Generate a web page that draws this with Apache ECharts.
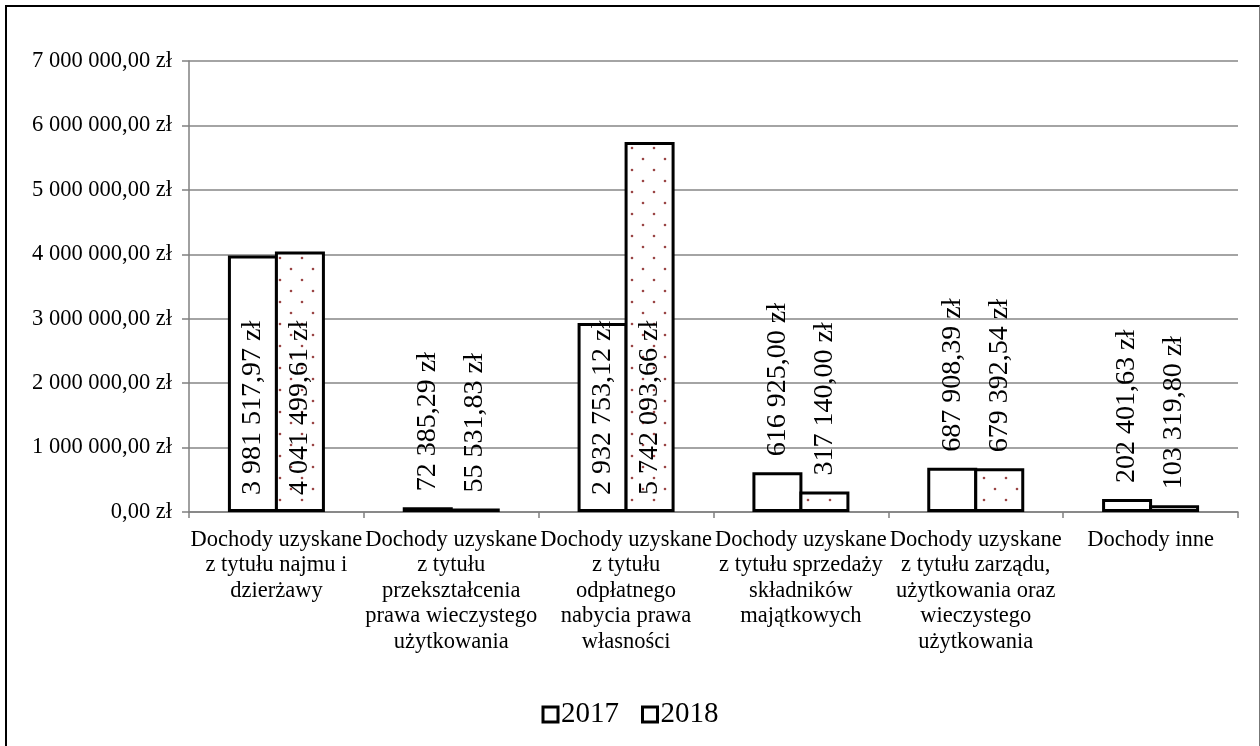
<!DOCTYPE html>
<html>
<head>
<meta charset="utf-8">
<script src="https://cdn.jsdelivr.net/npm/echarts@6/dist/echarts.min.js"></script>
<style>
  html, body { margin: 0; padding: 0; background: #fff; }
  #chart { position: absolute; left: 0; top: 0; width: 1260px; height: 746px; }
  #frame {
    position: absolute; left: 5px; top: 5px; width: 1252px; height: 760px;
    border-left: 2px solid #000; border-top: 2px solid #000; border-right: 1px solid #777;
    pointer-events: none;
  }
</style>
</head>
<body>
<div id="chart"></div>
<div id="frame"></div>
<script>
const categories = [
  "Dochody uzyskane\nz tytułu najmu i\ndzierżawy",
  "Dochody uzyskane\nz tytułu\nprzekształcenia\nprawa wieczystego\nużytkowania",
  "Dochody uzyskane\nz tytułu\nodpłatnego\nnabycia prawa\nwłasności",
  "Dochody uzyskane\nz tytułu sprzedaży\nskładników\nmajątkowych",
  "Dochody uzyskane\nz tytułu zarządu,\nużytkowania oraz\nwieczystego\nużytkowania",
  "Dochody inne",
];
const seriesNames = ["2017", "2018"];
const values2017 = [3981517.97, 72385.29, 2932753.12, 616925.0, 687908.39, 202401.63];
const values2018 = [4041499.61, 55531.83, 5742093.66, 317140.0, 679392.54, 103319.8];
const yMax = 7000000;
const yStep = 1000000;

const font = "'Liberation Serif', 'DejaVu Serif', serif";

const formatZl = (v) => {
  const [intPart, decPart] = Number(v).toFixed(2).split(".");
  return intPart.replace(/\B(?=(\d{3})+(?!\d))/g, " ") + "," + decPart + " zł";
};

// labels of tall bars sit inside, at the base
const labelFor = (v) => {
  const inside = v > 2000000;
  return {
    show: true,
    position: inside ? "insideBottom" : "top",
    distance: inside ? 17 : 16,
    rotate: 90,
    align: "left",
    verticalAlign: "middle",
    color: "#000",
    fontFamily: font,
    fontSize: 28,
    formatter: (p) => formatZl(p.value),
  };
};

const makeDots = () => {
  const c = document.createElement("canvas");
  c.width = 22;
  c.height = 22;
  const ctx = c.getContext("2d");
  ctx.fillStyle = "#fff";
  ctx.fillRect(0, 0, 22, 22);
  ctx.fillStyle = "#9a4545";
  [[5, 5], [16, 16]].forEach(([x, y]) => {
    ctx.beginPath();
    ctx.arc(x, y, 1.3, 0, Math.PI * 2);
    ctx.fill();
  });
  return c;
};

const chart = echarts.init(document.getElementById("chart"));
chart.setOption({
  animation: false,
  backgroundColor: "#fff",
  textStyle: { fontFamily: font },
  grid: { left: 189, right: 22, top: 61, bottom: 234 },
  legend: {
    bottom: 12,
    left: "center",
    itemWidth: 15,
    itemHeight: 15,
    itemGap: 22,
    icon: "rect",
    itemStyle: { color: "#fff", borderColor: "#000", borderWidth: 3 },
    textStyle: { fontFamily: font, fontSize: 29, color: "#000", padding: [0, 0, 0, -2] },
    data: seriesNames,
  },
  xAxis: {
    type: "category",
    data: categories,
    axisLine: { lineStyle: { color: "#808080", width: 1.5 } },
    axisTick: { show: true, length: 6, lineStyle: { color: "#808080", width: 1.5 } },
    axisLabel: {
      interval: 0,
      margin: 15,
      color: "#000",
      fontFamily: font,
      fontSize: 22.5,
      lineHeight: 25.5,
      align: "center",
    },
  },
  yAxis: {
    type: "value",
    min: 0,
    max: yMax,
    interval: yStep,
    axisLine: { show: true, lineStyle: { color: "#808080", width: 1.5 } },
    axisTick: { show: true, length: 7, lineStyle: { color: "#808080", width: 1.5 } },
    axisLabel: {
      margin: 17,
      color: "#000",
      fontFamily: font,
      fontSize: 22.5,
      formatter: (v) => formatZl(v),
    },
    splitLine: { lineStyle: { color: "#868686", width: 1.5 } },
  },
  series: [
    {
      name: seriesNames[0],
      type: "bar",
      barWidth: 50,
      barGap: "-6%",
      itemStyle: { color: "#fff", borderColor: "#000", borderWidth: 3 },
      data: values2017.map((v) => ({ value: v, label: labelFor(v) })),
    },
    {
      name: seriesNames[1],
      type: "bar",
      barWidth: 50,
      barGap: "-6%",
      itemStyle: {
        color: { image: makeDots(), repeat: "repeat" },
        borderColor: "#000",
        borderWidth: 3,
      },
      data: values2018.map((v) => ({ value: v, label: labelFor(v) })),
    },
  ],
});
</script>
</body>
</html>
